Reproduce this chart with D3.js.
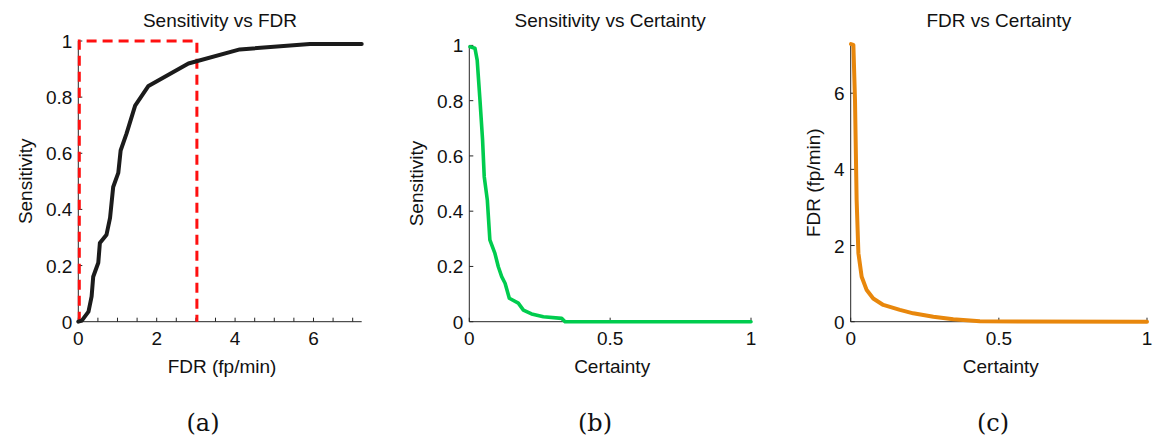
<!DOCTYPE html>
<html>
<head>
<meta charset="utf-8">
<script src="https://cdn.jsdelivr.net/npm/d3@7"></script>
<style>
  body { margin: 0; background: #fff; }
  text { font-family: "Liberation Sans", Arial, sans-serif; fill: #111; }
</style>
</head>
<body>
<div class="canvas"></div>
<script>
// data
var fdrX  = [0, 0.09, 0.26, 0.34, 0.38, 0.51, 0.55, 0.72, 0.81, 0.89, 1.02, 1.08, 1.23, 1.45, 1.79, 2.81, 4.12, 5.91, 7.23]
var sensA = [0, 0.004, 0.036, 0.09, 0.16, 0.21, 0.28, 0.31, 0.37, 0.48, 0.53, 0.61, 0.67, 0.77, 0.84, 0.92, 0.97, 0.989, 0.989]

var certB = [0.0025, 0.02, 0.028, 0.038, 0.047, 0.053, 0.064, 0.073, 0.091, 0.103, 0.115, 0.127, 0.142, 0.174, 0.192, 0.221, 0.263, 0.328, 0.34, 1]
var sensB = [0.995, 0.99, 0.947, 0.80, 0.66, 0.525, 0.44, 0.296, 0.247, 0.199, 0.163, 0.139, 0.085, 0.067, 0.042, 0.028, 0.018, 0.012, 0, 0]

var certC = [0.001, 0.009, 0.0145, 0.02, 0.026, 0.037, 0.054, 0.076, 0.11, 0.166, 0.211, 0.279, 0.346, 0.436, 1]
var fdrC  = [7.29, 7.27, 5.82, 3.2, 1.80, 1.18, 0.83, 0.61, 0.44, 0.31, 0.22, 0.13, 0.063, 0.01, 0]

// red box: FDR limit 3, sensitivity 1
var boxX = [0, 0, 3, 3]
var boxY = [0, 1, 1, 0]

var titles = ['Sensitivity vs FDR', 'Sensitivity vs Certainty', 'FDR vs Certainty']
var xLabels = ['FDR (fp/min)', 'Certainty', 'Certainty']
var yLabels = ['Sensitivity', 'Sensitivity', 'FDR (fp/min)']
var captions = ['(a)', '(b)', '(c)']

var xTicksA = [0, 0.5, 1, 1.5, 2, 2.5, 3, 3.5, 4, 4.5, 5, 5.5, 6, 6.5, 7]
var xLabelTicksA = [0, 2, 4, 6]
var certTicks = [0, 0.5, 1]
var sensTicks = [0, 0.2, 0.4, 0.6, 0.8, 1]
var fdrTicks = [0, 2, 4, 6]

var svg = d3.select(".canvas").append("svg").attr("width", 1153).attr("height", 440)

// panel layouts
var panels = [
  {left: 78.3, right: 361.7, top: 41, bottom: 321.7, xdom: [0, 7.23], ydom: [0, 1],
   xs: fdrX, ys: sensA, color: '#1b1b1b', width: 4,
   xticks: xTicksA, xlab: xLabelTicksA, yticks: sensTicks, cap: 203, ylx: 25},
  {left: 469.3, right: 751, top: 45.4, bottom: 321.7, xdom: [0, 1], ydom: [0, 1],
   xs: certB, ys: sensB, color: '#00cc4e', width: 3.6,
   xticks: certTicks, xlab: certTicks, yticks: sensTicks, cap: 595, ylx: 416},
  {left: 850.7, right: 1147, top: 43.7, bottom: 321.7, xdom: [0, 1], ydom: [0, 7.3],
   xs: certC, ys: fdrC, color: '#e8870c', width: 4,
   xticks: certTicks, xlab: certTicks, yticks: fdrTicks, cap: 993, ylx: 813}
]

panels.forEach(function(p, k) {
  var x = d3.scaleLinear().domain(p.xdom).range([p.left, p.right])
  var y = d3.scaleLinear().domain(p.ydom).range([p.bottom, p.top])
  var g = svg.append('g')

  // axis lines
  g.append('line').attr('x1', p.left).attr('x2', p.left).attr('y1', p.top).attr('y2', p.bottom)
    .attr('stroke', '#262626').attr('stroke-width', 1)
  g.append('line').attr('x1', p.left).attr('x2', p.right).attr('y1', p.bottom).attr('y2', p.bottom)
    .attr('stroke', '#262626').attr('stroke-width', 1)

  // inward ticks
  p.xticks.forEach(function(t) {
    g.append('line').attr('x1', x(t)).attr('x2', x(t)).attr('y1', p.bottom).attr('y2', p.bottom - 4)
      .attr('stroke', '#262626').attr('stroke-width', 1)
  })
  p.yticks.forEach(function(t) {
    g.append('line').attr('x1', p.left).attr('x2', p.left + 4).attr('y1', y(t)).attr('y2', y(t))
      .attr('stroke', '#262626').attr('stroke-width', 1)
  })

  // tick labels
  p.xlab.forEach(function(t) {
    g.append('text').attr('x', x(t)).attr('y', 345).attr('text-anchor', 'middle')
      .attr('font-size', 19).text(t)
  })
  p.yticks.forEach(function(t) {
    g.append('text').attr('x', p.left - 6).attr('y', y(t) + 7).attr('text-anchor', 'end')
      .attr('font-size', 19).text(t)
  })

  // red dashed box on first panel
  if (k == 0) {
    var box = d3.line().x(function(d) { return x(d[0]) + 1 }).y(function(d) { return y(d[1]) })
    g.append('path').datum(d3.zip(boxX, boxY)).attr('d', box)
      .attr('fill', 'none').attr('stroke', '#ff1010').attr('stroke-width', 3)
      .attr('stroke-dasharray', '10,6')
  }

  // curve
  var line = d3.line().x(function(d) { return x(d[0]) }).y(function(d) { return y(d[1]) })
  g.append('path').datum(d3.zip(p.xs, p.ys)).attr('d', line)
    .attr('fill', 'none').attr('stroke', p.color).attr('stroke-width', p.width)
    .attr('stroke-linejoin', 'round').attr('stroke-linecap', 'round')

  // titles and labels
  var cx = (p.left + p.right) / 2
  g.append('text').attr('x', cx).attr('y', 27).attr('text-anchor', 'middle')
    .attr('font-size', 19).text(titles[k])
  g.append('text').attr('x', cx + 2).attr('y', 373).attr('text-anchor', 'middle')
    .attr('font-size', 19).text(xLabels[k])
  var ly = (p.top + p.bottom) / 2
  g.append('text').attr('transform', 'translate(' + (p.ylx + 7) + ',' + ly + ') rotate(-90)')
    .attr('text-anchor', 'middle').attr('font-size', 19).text(yLabels[k])

  // sub caption
  g.append('text').attr('x', p.cap).attr('y', 431).attr('text-anchor', 'middle')
    .attr('font-size', 24).style('font-family', '"DejaVu Serif", "Liberation Serif", serif')
    .text(captions[k])
})
</script>
</body>
</html>
